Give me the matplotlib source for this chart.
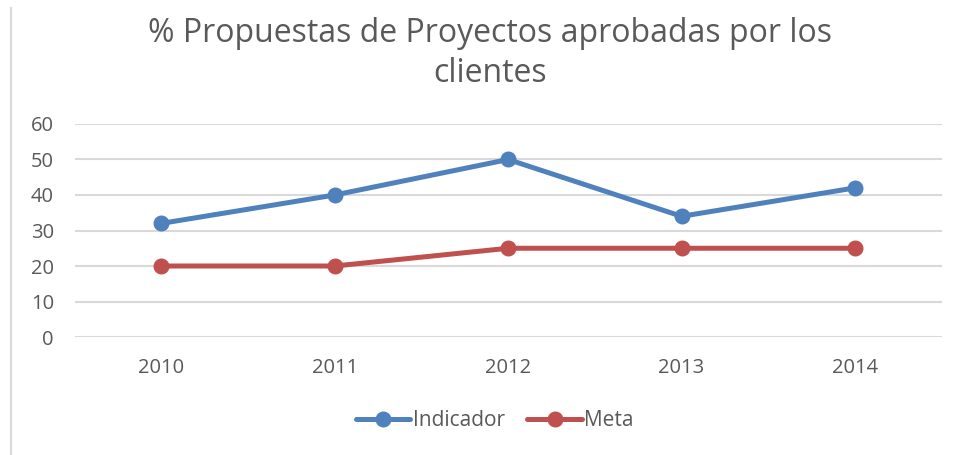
import matplotlib
matplotlib.use('Agg')
import matplotlib.pyplot as plt
from matplotlib.lines import Line2D

years = ['2010', '2011', '2012', '2013', '2014']
indicador = [32, 40, 50, 34, 42]
meta = [20, 20, 25, 25, 25]
yticks = [0, 10, 20, 30, 40, 50, 60]

blue = '#4F81BD'
red = '#C0504D'
txt = '#595959'

plt.rcParams['font.family'] = ['Open Sans', 'DejaVu Sans']

fig = plt.figure(figsize=(9.57, 4.55), dpi=100)
ax = fig.add_axes([0.078, 0.2593, 0.906, 0.4682])

x = range(len(years))
ax.plot(x, indicador, color=blue, lw=3.6, marker='o', ms=10.5, label='Indicador', solid_capstyle='round')
ax.plot(x, meta, color=red, lw=3.6, marker='o', ms=10.5, label='Meta', solid_capstyle='round')

ax.set_xlim(-0.5, 4.5)
ax.set_ylim(0, 60)
ax.set_yticks(yticks)
ax.set_xticks(list(x))
ax.set_xticklabels(years)
ax.yaxis.grid(True, color='#D9D9D9', lw=1.5)
ax.set_axisbelow(True)
for s in ax.spines.values():
    s.set_visible(False)
ax.tick_params(axis='both', length=0, colors=txt, labelsize=14.5)
ax.tick_params(axis='x', pad=15)
ax.tick_params(axis='y', pad=15)

fig.text(0.512, 0.882, '% Propuestas de Proyectos aprobadas por los\nclientes',
         ha='center', va='center', fontsize=23, color=txt, linespacing=1.3)

leg = fig.legend(loc='center', bbox_to_anchor=(0.517, 0.075), ncol=2, frameon=False,
                 fontsize=15, handlelength=2.6, handletextpad=0.1, columnspacing=1.1)
for t in leg.get_texts():
    t.set_color(txt)

fig.add_artist(Line2D([11 / 957, 11 / 957], [0, 1 - 8 / 455], color='#D9D9D9', lw=1.5))

fig.savefig('out.png', dpi=100)
